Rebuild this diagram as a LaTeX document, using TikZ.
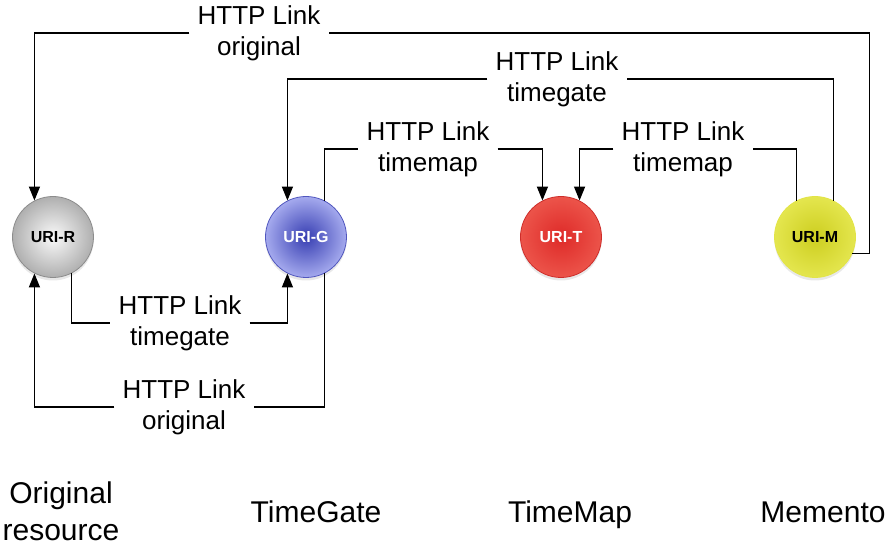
\documentclass[tikz,border=0pt]{standalone}
\usepackage{fontspec}
\setmainfont{Liberation Sans}
\usetikzlibrary{arrows.meta,shadows}

\definecolor{rIn}{RGB}{250,250,250}
\definecolor{rOut}{RGB}{175,175,175}
\definecolor{rLine}{RGB}{140,140,140}
\definecolor{gIn}{RGB}{55,62,178}
\definecolor{gOut}{RGB}{165,170,238}
\definecolor{gLine}{RGB}{80,86,190}
\definecolor{tIn}{RGB}{222,42,40}
\definecolor{tOut}{RGB}{236,84,74}
\definecolor{tLine}{RGB}{205,45,42}
\definecolor{mIn}{RGB}{205,206,32}
\definecolor{mOut}{RGB}{228,230,78}
\definecolor{mLine}{RGB}{226,228,70}

\tikzset{
  uri/.style={circle, minimum size=81pt, inner sep=0pt, line width=0.8pt,
    font=\fontsize{16}{19}\selectfont\bfseries,
    drop shadow={opacity=0.18, shadow xshift=0pt, shadow yshift=-3pt}},
  link/.style={align=center, inner xsep=8pt, inner ysep=0pt,
    font=\fontsize{26}{31}\selectfont},
  role/.style={align=center, inner sep=0pt, font=\fontsize{30}{37}\selectfont},
  conn/.style={line width=1.5pt, -{Triangle[length=14pt,width=11pt]}}
}

\begin{document}
\begin{tikzpicture}[x=1pt,y=-1pt]
      \useasboundingbox (0,0) rectangle (892,545);

      \node[uri, draw=rLine, inner color=rIn, outer color=rOut] (uriR) at (53,237) {URI-R};
      \node[uri, draw=gLine, inner color=gIn, outer color=gOut, text=white] (uriG) at (306,237) {URI-G};
      \node[uri, draw=tLine, inner color=tIn, outer color=tOut, text=white] (uriT) at (561,237) {URI-T};
      \node[uri, draw=mLine, inner color=mIn, outer color=mOut] (uriM) at (815,237) {URI-M};

      % link labels
      \node[link] (origTop) at (259,33) {HTTP Link\\original};
      \node[link] (gateTop) at (557,79) {HTTP Link\\timegate};
      \node[link] (mapLeft) at (428,149) {HTTP Link\\timemap};
      \node[link] (mapRight) at (683,149) {HTTP Link\\timemap};
      \node[link] (gateBot) at (180,323) {HTTP Link\\timegate};
      \node[link] (origBot) at (184,407) {HTTP Link\\original};

      \draw[conn] (uriM.-24) -- ++(17,0) |- (origTop) -| (uriR.117);
      \draw[conn] (uriM.63) |- (gateTop) -| (uriG.117);
      \draw[conn] (uriG.63) |- (mapLeft) -| (uriT.117);
      \draw[conn] (uriM.117) |- (mapRight) -| (uriT.63);
      \draw[conn] (uriR.-63) |- (gateBot) -| (uriG.-117);
      \draw[conn] (uriG.-63) |- (origBot) -| (uriR.-117);

      % roles
      \node[role] (roleR) at (61,511) {Original\\resource};
      \node[role, anchor=base] (roleG) at (316,522) {TimeGate};
      \node[role, anchor=base] (roleT) at (570,522) {TimeMap};
      \node[role, anchor=base] (roleM) at (823,522) {Memento};
    \end{tikzpicture}
\end{document}
